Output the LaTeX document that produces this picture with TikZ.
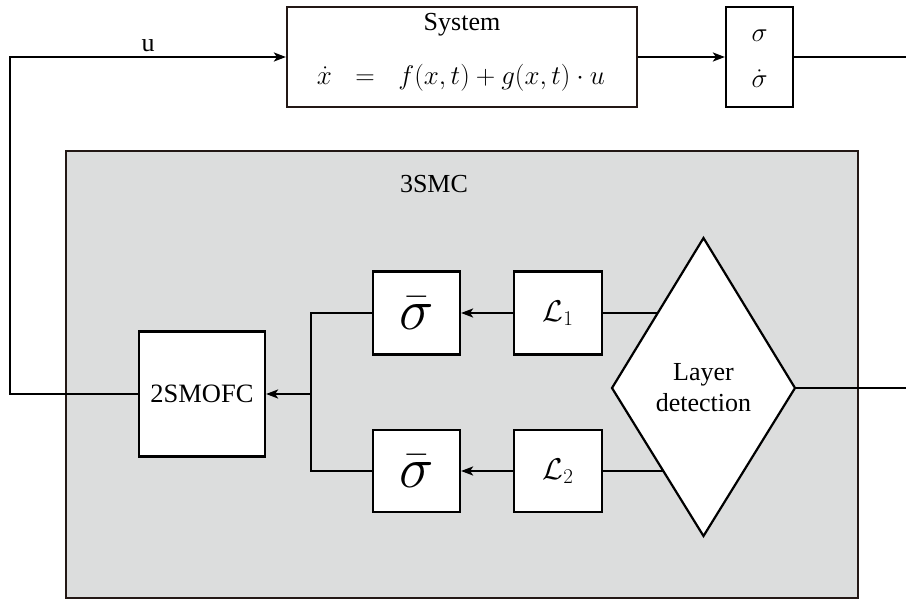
\RequirePackage{fix-cm}
\documentclass[tikz,border=0pt]{standalone}
\usepackage{fontspec}
\setmainfont{Liberation Serif}
\usetikzlibrary{arrows.meta,calc}

\definecolor{panelgray}{HTML}{DCDDDD}
\definecolor{darkframe}{HTML}{231815}

\tikzset{
  x=1pt, y=-1pt,
  wire/.style={line width=2.2pt, line cap=butt, line join=miter},
  arrowwire/.style={wire, -{Stealth[length=12pt,width=9pt,inset=3pt]}},
  block/.style={draw=black, line width=2.2pt, fill=white, inner sep=0pt},
  lbl/.style={inner sep=0pt, font=\fontsize{26}{31}\selectfont},
}

\begin{document}
\begin{tikzpicture}
\useasboundingbox (0,0) rectangle (906,600);

% controller panel
\node[draw=darkframe, line width=2.2pt, fill=panelgray, inner sep=0pt,
      minimum width=792pt, minimum height=447pt] (panel) at (462,374.5) {};
\node[lbl] (paneltitle) at (434,184) {3SMC};

% plant
\node[block, draw=darkframe, minimum width=350pt, minimum height=100pt] (sys) at (462,57) {};
\node[lbl] (systitle) at (462,25) {System};
\node[lbl, font=\fontsize{27}{31}\selectfont] (syseq) at (461,78)
  {$\dot{x} \hspace{16pt} = \hspace{16pt} f(x,t)+g(x,t)\cdot u$};

% sliding variable output
\node[block, minimum width=67pt, minimum height=100pt] (sig) at (759.5,57) {};
\node[lbl, font=\fontsize{27}{30}\selectfont] (sigA) at (759.5,36) {$\sigma$};
\node[lbl, font=\fontsize{27}{30}\selectfont] (sigB) at (759.5,79) {$\dot{\sigma}$};

% inner blocks
\node[block, minimum width=126pt, minimum height=125pt, font=\fontsize{26.5}{31}\selectfont]
  (smofc) at (202,394) {2SMOFC};
\node[block, minimum width=87pt, minimum height=83pt, font=\fontsize{58}{60}\selectfont]
  (sb1) at (416.5,313) {$\bar{\sigma}$};
\node[block, minimum width=87pt, minimum height=82pt, font=\fontsize{58}{60}\selectfont]
  (sb2) at (416.5,471) {$\bar{\sigma}$};
\node[block, minimum width=88pt, minimum height=83pt, font=\fontsize{30}{32}\selectfont]
  (L1) at (558,313) {$\mathcal{L}_1$};
\node[block, minimum width=88pt, minimum height=82pt, font=\fontsize{30}{32}\selectfont]
  (L2) at (558,471) {$\mathcal{L}_2$};

% layer detection diamond
\coordinate (dtop) at (703.5,238);
\coordinate (dbot) at (703.5,536);
\coordinate (dleft) at (612,388);
\coordinate (dright) at (795,388);
\draw[wire, fill=white] (dtop) -- (dright) -- (dbot) -- (dleft) -- cycle;
\node[lbl, align=center] (detect) at (703.5,388) {Layer\\detection};

% points where the branch wires meet the diamond edges
\coordinate (d1) at ($(dleft)!0.5!(dtop)$);
\coordinate (d2) at ($(dleft)!0.56!(dbot)$);

% free ends and corners
\coordinate (outA) at (906,57);
\coordinate (outB) at (906,388);
\coordinate (fbcorner) at (10,394);
\coordinate (fbtop) at (10,57);
\coordinate (junc) at (311,394);
\coordinate (jtop) at (311,313);
\coordinate (jbot) at (311,471);

% connectors
\draw[arrowwire] (sys.east) -- (sig.west);
\draw[wire] (sig.east) -- (outA);
\draw[wire] (dright) -- (outB);
\draw[arrowwire] (smofc.west) -- (fbcorner) -- (fbtop) -- (sys.west);
\node[lbl] (ulabel) at (148,46) {u};

\draw[arrowwire] (L1.west) -- (sb1.east);
\draw[arrowwire] (L2.west) -- (sb2.east);
\draw[wire] (L1.east) -- (L1.east -| d1);
\draw[wire] (L2.east) -- (L2.east -| d2);
\draw[wire] (sb1.west) -- (jtop) -- (jbot) -- (sb2.west);
\draw[arrowwire] (junc) -- (smofc.east);
\end{tikzpicture}
\end{document}
